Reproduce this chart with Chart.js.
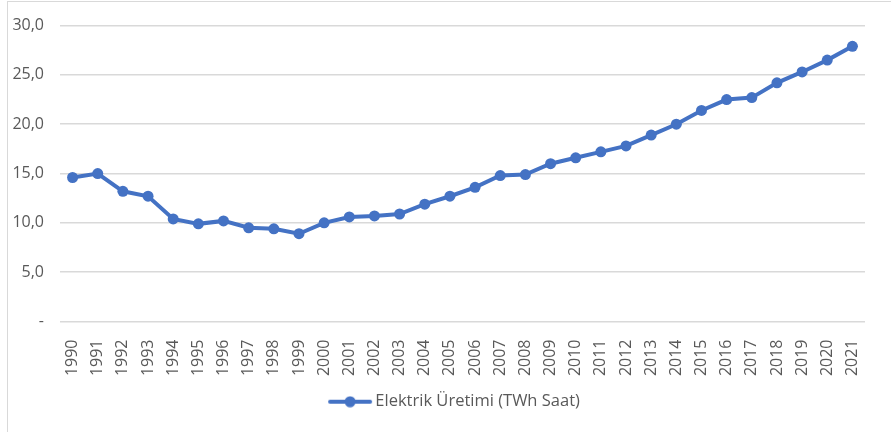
<!DOCTYPE html>
<html>
<head>
<meta charset="utf-8">
<script src="https://cdn.jsdelivr.net/npm/chart.js@4/dist/chart.umd.min.js"></script>
<style>
  body { margin: 0; background: #fff; overflow: hidden; }
  #frame { position: absolute; left: 7px; top: 1px; width: 900px; height: 450px; border: 1px solid #d9d9d9; }
  #wrap { position: absolute; left: 0; top: 0; width: 891px; height: 432px; }
</style>
</head>
<body>
<div id="frame"></div>
<div id="wrap"><canvas id="chart"></canvas></div>
<script>
// yillar ve uretim degerleri
const years = ["1990","1991","1992","1993","1994","1995","1996","1997","1998","1999",
  "2000","2001","2002","2003","2004","2005","2006","2007","2008","2009",
  "2010","2011","2012","2013","2014","2015","2016","2017","2018","2019","2020","2021"];
const uretim = [14.6, 15.0, 13.2, 12.7, 10.4, 9.9, 10.2, 9.5, 9.4, 8.9,
  10.0, 10.6, 10.7, 10.9, 11.9, 12.7, 13.6, 14.8, 14.9, 16.0,
  16.6, 17.2, 17.8, 18.9, 20.0, 21.4, 22.5, 22.7, 24.2, 25.3, 26.5, 27.9];
const seriesName = "Elektrik Üretimi (TWh Saat)";

const blue = "#4472C4";
const textColor = "#595959";

// legend icon: line with a dot; blank space on the left pushes the item
// a bit right of centre, like the original
const icon = document.createElement("canvas");
icon.width = 94; icon.height = 12;
let ic = icon.getContext("2d");
ic.strokeStyle = blue; ic.lineWidth = 4; ic.lineCap = "round";
ic.beginPath(); ic.moveTo(51, 6); ic.lineTo(91, 6); ic.stroke();
ic.fillStyle = blue;
ic.beginPath(); ic.arc(71, 6, 5.5, 0, Math.PI * 2); ic.fill();

Chart.defaults.font.family = "'Open Sans', sans-serif";
Chart.defaults.font.size = 16;
Chart.defaults.color = textColor;

new Chart(document.getElementById("chart").getContext("2d"), {
  type: "line",
  data: {
    labels: years,
    datasets: [{
      label: seriesName,
      data: uretim,
      borderColor: blue,
      backgroundColor: blue,
      borderWidth: 4,
      pointRadius: 5.5,
      pointHoverRadius: 5.5,
      pointBorderWidth: 0,
      pointBackgroundColor: blue,
      tension: 0,
    }]
  },
  options: {
    responsive: true,
    maintainAspectRatio: false,
    animation: false,
    layout: { padding: { top: 24, right: 26, bottom: 12, left: 0 } },
    plugins: {
      legend: {
        position: "bottom",
        labels: {
          usePointStyle: true,
          pointStyle: icon,
          pointStyleWidth: 82,
          padding: 10,
          color: textColor,
          font: { size: 16.5 },
        }
      },
      tooltip: { enabled: false },
    },
    scales: {
      x: {
        offset: true,
        grid: { display: false },
        border: { display: false },
        ticks: { minRotation: 90, maxRotation: 90, padding: 10, autoSkip: false },
        afterFit: (s) => { s.height = 62; },
      },
      y: {
        min: 0,
        max: 30,
        grid: { color: "#d9d9d9", lineWidth: 1.5, drawTicks: false },
        border: { display: false },
        ticks: {
          stepSize: 5,
          padding: 16,
          callback: (v) => v === 0 ? "-" : v.toFixed(1).replace(".", ","),
        },
        afterFit: (s) => { s.width = 60; },
      }
    }
  }
});
</script>
</body>
</html>
